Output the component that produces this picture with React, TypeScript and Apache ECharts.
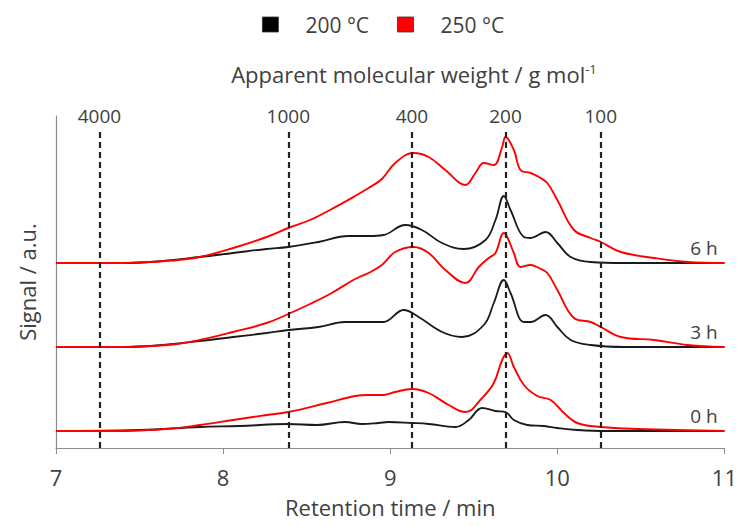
import React, { useEffect, useRef } from "react";
import * as echarts from "echarts";

const FONT = "'Open Sans', sans-serif";
const TEXT = "#404040";

// Vertical offsets (a.u.) of the stacked chromatograms
const groupLabels = ["0 h", "3 h", "6 h"];
const groupOffsets = [17, 101, 185];

// Apparent molecular weight calibration lines
const mwLabels = ["4000", "1000", "400", "200", "100"];
const mwTimes = [7.26, 8.39, 9.13, 9.69, 10.26];
const mwLineTop = 319;

// 0 h
const black0hT = [7.0, 7.5, 7.86, 8.1, 8.39, 8.56, 8.73, 8.83, 8.93, 8.99, 9.13, 9.23, 9.39, 9.47, 9.55, 9.63, 9.69, 9.74, 9.82, 9.92, 10.0, 10.12, 10.3, 11.0];
const black0hV = [0, 1, 4, 5, 7, 6, 9, 7, 8, 9, 8, 7, 4, 11, 23, 20, 19, 11, 6, 5, 3, 1, 0, 0];
const red0hT = [7.0, 7.3, 7.5, 7.7, 7.86, 8.06, 8.26, 8.39, 8.62, 8.79, 8.87, 8.96, 9.03, 9.13, 9.23, 9.35, 9.45, 9.55, 9.62, 9.67, 9.7, 9.74, 9.8, 9.88, 9.96, 10.04, 10.12, 10.26, 10.48, 11.0];
const red0hV = [0, 0, 0.5, 2.5, 6, 11, 16, 19, 28, 35, 36, 36, 39, 42, 38, 26, 19, 33, 48, 71, 78, 64, 46, 35, 31, 18, 8, 4, 2, 0];

// 3 h
const black3hT = [7.0, 7.4, 7.6, 7.86, 8.06, 8.26, 8.39, 8.57, 8.73, 8.87, 8.96, 9.08, 9.17, 9.31, 9.43, 9.56, 9.62, 9.68, 9.72, 9.8, 9.84, 9.93, 10.0, 10.08, 10.2, 10.4, 11.0];
const black3hV = [0, 0, 1.5, 6, 10, 14, 17, 20, 25, 25, 25, 37, 30, 15, 10, 22, 44, 67, 54, 25, 25, 32, 20, 7, 2, 0, 0];
const red3hT = [7.0, 7.3, 7.5, 7.7, 7.86, 8.06, 8.26, 8.39, 8.52, 8.65, 8.79, 8.87, 8.95, 9.03, 9.14, 9.23, 9.33, 9.45, 9.53, 9.59, 9.63, 9.68, 9.7, 9.74, 9.78, 9.84, 9.89, 9.94, 10.0, 10.1, 10.2, 10.26, 10.38, 10.58, 10.78, 11.0];
const red3hV = [0, 0, 0.5, 2.5, 7, 15, 24, 33, 43, 54, 68, 74, 82, 95, 100, 94, 77, 64, 80, 89, 94, 114, 110, 94, 80, 82, 79, 74, 57, 29, 25, 20, 10, 7, 2, 0];

// 6 h
const black6hT = [7.0, 7.4, 7.6, 7.86, 8.06, 8.26, 8.39, 8.57, 8.75, 8.87, 8.96, 9.09, 9.19, 9.31, 9.44, 9.57, 9.63, 9.68, 9.72, 9.8, 9.84, 9.93, 10.0, 10.08, 10.2, 10.4, 11.0];
const black6hV = [0, 0, 1.5, 6, 10, 14, 16, 21, 27, 27, 28, 38, 33, 20, 14, 23, 43, 67, 53, 26, 25, 31, 20, 6, 1, 0, 0];
const red6hT = [7.0, 7.3, 7.5, 7.7, 7.86, 8.06, 8.26, 8.39, 8.52, 8.65, 8.79, 8.87, 8.95, 9.03, 9.14, 9.23, 9.33, 9.45, 9.51, 9.56, 9.62, 9.67, 9.69, 9.74, 9.78, 9.84, 9.89, 9.94, 10.0, 10.1, 10.2, 10.26, 10.38, 10.58, 10.78, 11.0];
const red6hV = [0, 0, 0.5, 2.5, 6, 15, 26, 35, 43, 54, 67, 75, 84, 100, 110, 106, 93, 78, 90, 100, 98, 116, 126, 113, 93, 90, 86, 80, 63, 33, 25, 21, 11, 5, 1, 0];

const xTicks = [7, 8, 9, 10, 11];

const blackSets = [
  [black0hT, black0hV],
  [black3hT, black3hV],
  [black6hT, black6hV],
];
const redSets = [
  [red0hT, red0hV],
  [red3hT, red3hV],
  [red6hT, red6hV],
];

function toData(t: number[], v: number[], off: number) {
  return t.map((x, i) => [x, v[i] + off]);
}

export default function App() {
  const ref = useRef<HTMLDivElement>(null);
  useEffect(() => {
    if (!ref.current) return;
    const chart = echarts.init(ref.current, null, { renderer: "svg" });

    const series: any[] = [];
    blackSets.forEach(([t, v], g) => {
      series.push({
        name: "200 °C",
        type: "line",
        data: toData(t, v, groupOffsets[g]),
        showSymbol: false,
        smooth: 0.4,
        lineStyle: { color: "#1a1a1a", width: 1.8 },
        itemStyle: { color: "#000000" },
        z: 3,
        markPoint: {
          symbol: "circle",
          symbolSize: 0,
          silent: true,
          data: [
            {
              coord: [10.96, groupOffsets[g] + 15],
              value: groupLabels[g],
            },
          ],
          label: {
            show: true,
            position: "left",
            distance: 0,
            formatter: "{c}",
            color: TEXT,
            fontFamily: FONT,
            fontSize: 19,
          },
        },
        markLine:
          g === 0
            ? {
                silent: true,
                symbol: ["none", "none"],
                lineStyle: { type: [6, 4], width: 2.2, color: "#222222" },
                label: {
                  show: true,
                  position: "end",
                  distance: 4,
                  formatter: "{b}",
                  color: TEXT,
                  fontFamily: FONT,
                  fontSize: 19,
                },
                data: mwTimes.map((x, i) => [
                  { coord: [x, 0], name: mwLabels[i] },
                  { coord: [x, mwLineTop] },
                ]),
              }
            : undefined,
      });
    });
    redSets.forEach(([t, v], g) => {
      series.push({
        name: "250 °C",
        type: "line",
        data: toData(t, v, groupOffsets[g]),
        showSymbol: false,
        smooth: 0.4,
        lineStyle: { color: "#ff0000", width: 1.9 },
        itemStyle: { color: "#ff0000" },
        z: 4,
      });
    });

    chart.setOption({
      animation: false,
      legend: {
        left: 257,
        top: 9,
        icon: "rect",
        itemWidth: 16,
        itemHeight: 15,
        itemGap: 28,
        selectedMode: false,
        itemStyle: { borderColor: "#333333", borderWidth: 0.8 },
        textStyle: {
          fontFamily: FONT,
          fontSize: 21,
          color: TEXT,
          padding: [0, 0, 0, 22],
        },
        data: [
          { name: "200 °C", itemStyle: { color: "#000000" } },
          { name: "250 °C", itemStyle: { color: "#ff0000" } },
        ],
      },
      grid: { left: 56, right: 13, top: 116, bottom: 78 },
      xAxis: {
        type: "value",
        min: xTicks[0],
        max: xTicks[xTicks.length - 1],
        interval: 1,
        axisLine: { show: true, lineStyle: { color: "#8c8c8c", width: 1.2 } },
        axisTick: { show: true, length: 6, lineStyle: { color: "#8c8c8c" } },
        axisLabel: {
          fontFamily: FONT,
          fontSize: 22,
          color: TEXT,
          margin: 18,
        },
        splitLine: { show: false },
        name: "Retention time / min",
        nameLocation: "middle",
        nameGap: 48,
        nameTextStyle: { fontFamily: FONT, fontSize: 22, color: TEXT },
      },
      yAxis: {
        type: "value",
        min: 0,
        max: 332,
        axisLine: { show: true, lineStyle: { color: "#8c8c8c", width: 1.2 } },
        axisTick: { show: false },
        axisLabel: { show: false },
        splitLine: { show: false },
      },
      graphic: [
        {
          type: "text",
          x: 414,
          y: 74,
          style: {
            text: "{a|Apparent molecular weight / g mol}{b|-1}",
            textAlign: "center",
            textVerticalAlign: "middle",
            rich: {
              a: { fontFamily: FONT, fontSize: 22, fill: TEXT, color: TEXT },
              b: {
                fontFamily: FONT,
                fontSize: 13,
                fill: TEXT,
                color: TEXT,
                verticalAlign: "top",
                padding: [0, 0, 10, 0],
              },
            },
          },
        },
        {
          type: "text",
          x: 27,
          y: 282,
          rotation: Math.PI / 2,
          style: {
            text: "Signal / a.u.",
            fontFamily: FONT,
            fontSize: 22,
            fill: TEXT,
            textAlign: "center",
            textVerticalAlign: "middle",
          },
        },
      ],
      series,
    });
    return () => chart.dispose();
  }, []);
  return (
    <div
      ref={ref}
      style={{ position: "absolute", left: 0, top: 0, width: 740, height: 526 }}
    />
  );
}
